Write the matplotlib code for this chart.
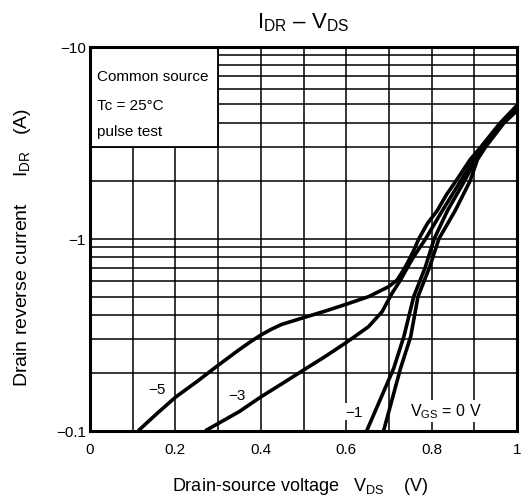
import numpy as np
import matplotlib
matplotlib.use("Agg")
import matplotlib.pyplot as plt
from matplotlib.patches import Rectangle
from matplotlib.ticker import FixedLocator, FixedFormatter, NullFormatter

plt.rcParams['font.family'] = ['Liberation Sans', 'DejaVu Sans']
plt.rcParams['mathtext.fontset'] = 'custom'
plt.rcParams['mathtext.rm'] = 'Liberation Sans'
plt.rcParams['mathtext.default'] = 'regular'

# curves: VDS (V), |IDR| (A)
vds_m5 = [0.113, 0.157, 0.201, 0.25, 0.301, 0.348, 0.375, 0.4, 0.425, 0.449, 0.5, 0.551, 0.599,
          0.652, 0.699, 0.719, 0.734, 0.745, 0.757, 0.77, 0.79, 0.813, 0.835, 0.857, 0.89,
          0.915, 0.96, 1.0]
idr_m5 = [0.1, 0.123, 0.15, 0.18, 0.22, 0.263, 0.29, 0.315, 0.338, 0.358, 0.388, 0.42, 0.455,
          0.499, 0.562, 0.609, 0.687, 0.76, 0.86, 1.0, 1.2, 1.4, 1.7, 2.0, 2.58,
          3.0, 4.0, 4.95]

vds_m3 = [0.27, 0.3, 0.35, 0.4, 0.45, 0.5, 0.55, 0.6, 0.652, 0.684, 0.707, 0.727, 0.742,
          0.757, 0.786, 0.825, 0.868, 0.898, 0.919, 0.963, 1.0]
idr_m3 = [0.1, 0.109, 0.126, 0.15, 0.176, 0.207, 0.243, 0.288, 0.348, 0.417, 0.519, 0.609, 0.70,
          0.80, 1.0, 1.4, 2.0, 2.58, 3.0, 4.0, 4.85]

vds_m1 = [0.648, 0.711, 0.735, 0.758, 0.785, 0.806, 0.837, 0.877, 0.903, 0.922, 0.966, 1.0]
idr_m1 = [0.1, 0.211, 0.31, 0.5, 0.71, 1.0, 1.4, 2.0, 2.58, 3.0, 4.0, 4.75]

vds_0 = [0.6875, 0.727, 0.751, 0.768, 0.795, 0.817, 0.855, 0.89, 0.907, 0.926, 0.969, 1.0]
idr_0 = [0.1, 0.211, 0.31, 0.5, 0.71, 1.0, 1.4, 2.0, 2.58, 3.0, 4.0, 4.65]

curves = [(vds_m5, idr_m5), (vds_m3, idr_m3), (vds_m1, idr_m1), (vds_0, idr_0)]

xticks = [0, 0.2, 0.4, 0.6, 0.8, 1.0]
xtick_labels = ['0', '0.2', '0.4', '0.6', '0.8', '1']
yticks = [0.1, 1, 10]
ytick_labels = ['\u22120.1', '\u22121', '\u221210']

fig = plt.figure(figsize=(5.24, 5.02), dpi=100)
ax = fig.add_axes([0.1718, 0.140, 0.815, 0.765])

ax.set_yscale('log')
ax.set_xlim(0, 1)
ax.set_ylim(0.1, 10)

# grid
ax.xaxis.set_major_locator(FixedLocator(xticks))
ax.xaxis.set_major_formatter(FixedFormatter(xtick_labels))
ax.xaxis.set_minor_locator(FixedLocator(np.arange(0.1, 1.0, 0.1)))
ax.yaxis.set_major_locator(FixedLocator(yticks))
ax.yaxis.set_major_formatter(FixedFormatter(ytick_labels))
ax.yaxis.set_minor_locator(FixedLocator([m * d for d in (0.1, 1) for m in range(2, 10)]))
ax.yaxis.set_minor_formatter(NullFormatter())
ax.grid(True, which='both', color='black', lw=1.1, zorder=1)
ax.tick_params(which='both', length=0, labelsize=11, colors='black')
ax.tick_params(axis='x', pad=8)
ax.tick_params(axis='y', pad=3)
for s in ax.spines.values():
    s.set_linewidth(2.2)
    s.set_zorder(5)

# condition box
ax.add_patch(Rectangle((0, 3), 0.3, 7, facecolor='white', edgecolor='black', lw=1.3, zorder=3))
ax.text(0.016, 7.0, 'Common source', fontsize=11, va='center', zorder=4)
ax.text(0.016, 4.95, 'Tc = 25\u00b0C', fontsize=11, va='center', zorder=4)
ax.text(0.016, 3.65, 'pulse test', fontsize=11, va='center', zorder=4)

for v, i in curves:
    ax.plot(v, i, color='black', lw=2.6, solid_joinstyle='round', solid_capstyle='butt', zorder=4)

bb = dict(facecolor='white', edgecolor='none', pad=1)
ax.text(0.156, 0.165, '\u22125', fontsize=11, ha='center', va='center', bbox=bb, zorder=3)
ax.text(0.343, 0.1535, '\u22123', fontsize=11, ha='center', va='center', bbox=bb, zorder=3)
ax.text(0.617, 0.1256, '\u22121', fontsize=11, ha='center', va='center', bbox=bb, zorder=3)
ax.text(0.749, 0.127, '$V_{GS}$ = 0 V', fontsize=11.5, ha='left', va='center', bbox=bb, zorder=3)

fig.text(0.578, 0.955, '$I_{DR}$ \u2013 $V_{DS}$', fontsize=16, ha='center', va='center')
fig.text(0.573, 0.031, 'Drain-source voltage   $V_{DS}$    (V)', fontsize=13, ha='center', va='center')
fig.text(0.042, 0.507, 'Drain reverse current     $I_{DR}$   (A)', fontsize=14, ha='center', va='center',
         rotation=90)

fig.savefig('out.png', dpi=100)
